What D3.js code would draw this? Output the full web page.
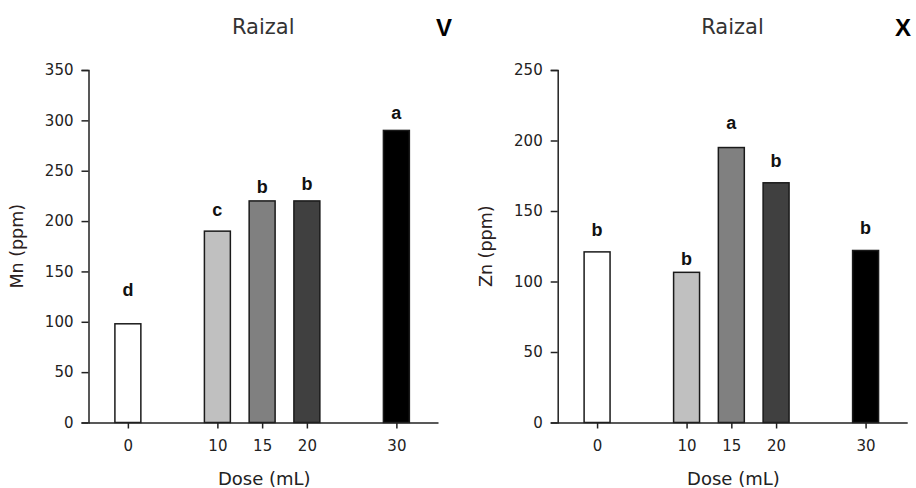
<!DOCTYPE html>
<html>
<head>
<meta charset="utf-8">
<script src="https://cdn.jsdelivr.net/npm/d3@7"></script>
<style>
  html, body { margin: 0; padding: 0; background: #fff; }
  svg { display: block; }
</style>
</head>
<body>
<svg id="chart" width="916" height="488"></svg>
<script>
// ---- Data ----
const doses = [0, 10, 15, 20, 30];
const barFills = ["#ffffff", "#c0c0c0", "#808080", "#404040", "#000000"];
const mnValues = [98, 190, 220, 220, 290];
const mnLetters = ["d", "c", "b", "b", "a"];
const mnLetterAt = [126, 205, 228, 231, 301];
const znValues = [121, 106.5, 195, 170, 122];
const znLetters = ["b", "b", "a", "b", "b"];
const znLetterAt = [132, 112, 208, 181, 134];
const mnTicks = [0, 50, 100, 150, 200, 250, 300, 350];
const znTicks = [0, 50, 100, 150, 200, 250];
const panelTitle = "Raizal";
const xTitle = "Dose (mL)";

const svg = d3.select("#chart");
const FONT = "'DejaVu Sans', Verdana, sans-serif";
const BOLD = "'Liberation Sans', Arial, sans-serif";

function panel(opts) {
  const g = svg.append("g");
  const x = d3.scaleLinear().domain([-4.4, 34.65]).range([opts.left, opts.left + 349.5]);
  const y = d3.scaleLinear().domain([0, opts.max]).range([422.5, 70]);
  const bw = x(2.9) - x(0);

  // bars
  g.selectAll("rect.bar").data(opts.values).join("rect")
    .attr("class", "bar")
    .attr("x", (d, i) => x(doses[i]) - bw / 2)
    .attr("y", d => y(d))
    .attr("width", bw)
    .attr("height", d => y(0) - y(d))
    .attr("fill", (d, i) => barFills[i])
    .attr("stroke", "#1a1a1a")
    .attr("stroke-width", 1.5);

  // letters
  g.selectAll("text.sig").data(opts.letters).join("text")
    .attr("class", "sig")
    .attr("x", (d, i) => x(doses[i]))
    .attr("y", (d, i) => y(opts.letterAt[i]))
    .attr("text-anchor", "middle")
    .attr("font-family", BOLD)
    .attr("font-weight", "bold")
    .attr("font-size", 18)
    .attr("fill", "#111")
    .text(d => d);

  // y axis
  const ya = g.append("g")
    .attr("transform", `translate(${opts.left},0)`)
    .call(d3.axisLeft(y).tickValues(opts.ticks).tickSize(7).tickSizeOuter(7).tickPadding(8));
  // x axis
  const xa = g.append("g")
    .attr("transform", `translate(0,${y(0)})`)
    .call(d3.axisBottom(x).tickValues(doses).tickSize(6).tickSizeOuter(0).tickPadding(12));

  [ya, xa].forEach(a => {
    a.selectAll("path, line").attr("stroke", "#222").attr("stroke-width", 1.5);
    a.selectAll("text").attr("font-family", FONT).attr("font-size", 15).attr("fill", "#222");
  });

  const cx = (x.range()[0] + x.range()[1]) / 2;
  // title
  g.append("text")
    .attr("x", cx).attr("y", 34)
    .attr("text-anchor", "middle")
    .attr("font-family", FONT).attr("font-size", 21).attr("fill", "#333")
    .text(panelTitle);
  // panel letter
  g.append("text")
    .attr("x", opts.tagX).attr("y", 36)
    .attr("text-anchor", "middle")
    .attr("font-family", BOLD).attr("font-weight", "bold").attr("font-size", 24).attr("fill", "#000")
    .text(opts.tag);
  // x title
  g.append("text")
    .attr("x", cx + 1).attr("y", 485)
    .attr("text-anchor", "middle")
    .attr("font-family", FONT).attr("font-size", 18).attr("fill", "#222")
    .text(xTitle);
  // y title
  g.append("text")
    .attr("transform", `translate(${opts.left - 65.5},${y(opts.max / 2)}) rotate(-90)`)
    .attr("text-anchor", "middle")
    .attr("font-family", FONT).attr("font-size", 17.5).attr("fill", "#2a2020")
    .text(opts.yTitle);
}

panel({ left: 88.5, max: 350, values: mnValues, letters: mnLetters, letterAt: mnLetterAt,
        ticks: mnTicks, tag: "V", tagX: 444, yTitle: "Mn (ppm)" });
panel({ left: 557.7, max: 250, values: znValues, letters: znLetters, letterAt: znLetterAt,
        ticks: znTicks, tag: "X", tagX: 903, yTitle: "Zn (ppm)" });
</script>
</body>
</html>
